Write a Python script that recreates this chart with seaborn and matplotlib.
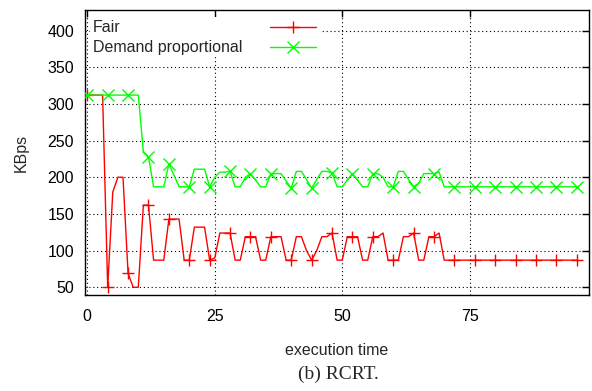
import matplotlib
matplotlib.use("Agg")
import matplotlib.pyplot as plt
import seaborn as sns
import pandas as pd
from matplotlib.patches import Rectangle

# ---- data ----
time = list(range(0, 97))
fair = [312, 312, 312, 312, 50, 180, 200, 200, 69, 50,
        50, 162, 162, 87, 87, 87, 143, 143, 143, 87,
        87, 132, 132, 132, 87, 90, 124, 124, 124, 87,
        87, 119, 119, 119, 87, 87, 119, 119, 119, 87,
        87, 119, 119, 100, 87, 100, 119, 119, 124, 87,
        87, 119, 119, 119, 87, 87, 119, 119, 124, 87,
        87, 87, 119, 119, 124, 87, 87, 119, 119, 124] + [87] * 27
demand = [312] * 11 + [235, 228, 187, 187, 187, 218, 203, 187, 187,
                       187, 211, 211, 211, 187, 200, 207, 207, 208, 187,
                       187, 200, 205, 196, 187, 187, 205, 205, 205, 195,
                       185, 208, 208, 197, 185, 197, 208, 208, 206, 187,
                       187, 196, 205, 196, 187, 187, 205, 205, 200, 187,
                       187, 208, 208, 197, 187, 192, 205, 205, 205, 207,
                       187] + [187] * 26
series_names = ["Fair", "Demand proportional"]
x_ticks = [0, 25, 50, 75]
y_ticks = [50, 100, 150, 200, 250, 300, 350, 400]

df = pd.DataFrame({"time": time, "Fair": fair, "Demand proportional": demand})

sns.set_style("white")
plt.rcParams["font.family"] = ["Liberation Sans", "DejaVu Sans"]

fig = plt.figure(figsize=(5.92, 3.91), dpi=100)
ax = fig.add_axes([85 / 592, 1 - 295 / 391, 504 / 592, 285 / 391])

RED = "#ff0000"
GREEN = "#00ff00"
FS = 11.5

sns.lineplot(data=df, x="time", y="Fair", ax=ax, color=RED, lw=1.0,
             marker="+", markersize=9, markeredgewidth=1.0,
             markeredgecolor=RED, markevery=4, zorder=3)
sns.lineplot(data=df, x="time", y="Demand proportional", ax=ax, color=GREEN,
             lw=1.0, marker="x", markersize=8.5, markeredgewidth=1.0,
             markeredgecolor=GREEN, markevery=4, zorder=4)

ax.set_xlim(-0.45, 98.4)
ax.set_ylim(39.5, 428)
ax.set_xticks(x_ticks)
ax.set_yticks(y_ticks)
ax.set_axisbelow(True)
ax.grid(True, color="black", linestyle=(0, (1, 2.5)), linewidth=0.8)
ax.tick_params(direction="in", length=5, width=1, top=True, right=True,
               labelsize=FS, colors="black")
ax.tick_params(axis="x", pad=10)
ax.tick_params(axis="y", pad=8)
for s in ax.spines.values():
    s.set_visible(True)
    s.set_color("black")
    s.set_linewidth(1.0)

ax.set_xlabel("execution time", fontsize=FS, labelpad=14)
ax.set_ylabel("KBps", fontsize=FS, labelpad=13)

# opaque key box (gnuplot style)
ax.add_patch(Rectangle((0.0099, 0.835), 0.46, 0.14, transform=ax.transAxes,
                       facecolor="white", edgecolor="none", zorder=1))
key_y = [0.940, 0.870]
key_colors = [RED, GREEN]
key_markers = ["+", "x"]
key_sizes = [9, 8.5]
for name, yy, c, m, ms in zip(series_names, key_y, key_colors, key_markers, key_sizes):
    ax.text(0.0159, yy, name, transform=ax.transAxes, fontsize=FS,
            va="center", ha="left", zorder=5)
    ax.plot([0.368, 0.458], [yy, yy], transform=ax.transAxes, color=c,
            lw=1.0, zorder=5)
    ax.plot([0.412], [yy], transform=ax.transAxes, color=c, marker=m,
            markersize=ms, markeredgewidth=1.0, lw=0, zorder=5)

fig.text(338 / 592, 1 - 374 / 391, "(b) RCRT.", ha="center", va="center",
         fontsize=14, family=["Liberation Serif", "DejaVu Serif"])

fig.savefig("out.png", dpi=100)
